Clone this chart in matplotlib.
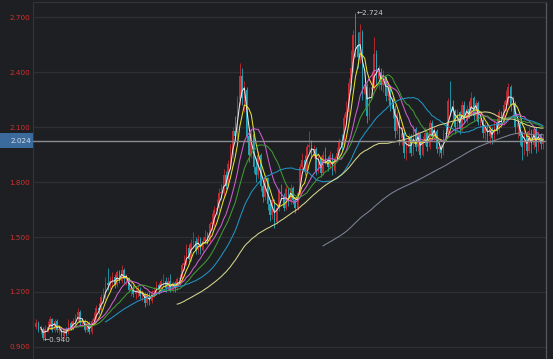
import matplotlib
matplotlib.use("Agg")
import matplotlib.pyplot as plt
import matplotlib.transforms as mtransforms
from matplotlib.patches import Rectangle
import numpy as np
import pandas as pd

# daily closes (left to right)
closes = [
    1.03, 0.99, 1.00, 0.95, 1.00, 1.01, 1.05, 0.99, 1.04, 0.99,
    1.00, 0.96, 0.99, 0.98, 1.03, 1.00, 1.04, 1.05, 1.09, 1.03,
    1.04, 0.99, 1.03, 0.98, 1.04, 1.06, 1.11, 1.10, 1.17, 1.17,
    1.25, 1.24, 1.26, 1.28, 1.24, 1.31, 1.26, 1.32, 1.27, 1.27,
    1.21, 1.22, 1.19, 1.20, 1.21, 1.18, 1.19, 1.14, 1.19, 1.15,
    1.20, 1.20, 1.24, 1.21, 1.26, 1.26, 1.22, 1.26, 1.21, 1.25,
    1.22, 1.27, 1.27, 1.35, 1.36, 1.44, 1.38, 1.47, 1.48, 1.43,
    1.49, 1.43, 1.48, 1.50, 1.48, 1.57, 1.58, 1.65, 1.66, 1.74,
    1.74, 1.84, 1.78, 1.90, 1.95, 2.08, 2.05, 2.25, 2.38, 2.26,
    2.30, 2.05, 1.95, 2.06, 1.88, 1.84, 1.95, 1.78, 1.72, 1.82,
    1.68, 1.62, 1.70, 1.58, 1.66, 1.75, 1.72, 1.66, 1.76, 1.69,
    1.77, 1.70, 1.66, 1.74, 1.88, 1.92, 1.86, 1.99, 2.00, 1.95,
    1.98, 1.86, 1.93, 1.85, 1.95, 1.92, 1.88, 1.95, 1.86, 1.93,
    1.96, 2.02, 2.00, 2.15, 2.18, 2.34, 2.42, 2.60, 2.55, 2.48,
    2.62, 2.28, 2.32, 2.16, 2.30, 2.32, 2.50, 2.36, 2.40, 2.33,
    2.37, 2.27, 2.32, 2.22, 2.20, 2.08, 2.17, 2.04, 2.07, 1.96,
    1.99, 2.05, 1.96, 2.09, 1.99, 2.06, 1.95, 2.03, 2.07, 1.99,
    2.12, 2.05, 2.08, 1.98, 1.99, 1.96, 2.07, 2.06, 2.24, 2.20,
    2.19, 2.10, 2.18, 2.09, 2.22, 2.14, 2.20, 2.17, 2.26, 2.16,
    2.23, 2.13, 2.14, 2.07, 2.10, 2.05, 2.09, 2.04, 2.12, 2.09,
    2.18, 2.12, 2.22, 2.25, 2.32, 2.22, 2.23, 2.10, 2.12, 2.05,
    1.99, 2.07, 1.97, 2.08, 2.00, 2.09, 1.99, 2.06, 2.01, 2.024,
]
highs = [
    1.05, 1.04, 1.02, 1.01, 1.02, 1.04, 1.07, 1.06, 1.05, 1.05,
    1.02, 1.01, 1.00, 1.01, 1.05, 1.04, 1.06, 1.08, 1.11, 1.10,
    1.06, 1.05, 1.04, 1.04, 1.05, 1.09, 1.13, 1.14, 1.19, 1.22,
    1.28, 1.33, 1.29, 1.31, 1.30, 1.32, 1.32, 1.35, 1.33, 1.30,
    1.28, 1.25, 1.24, 1.23, 1.24, 1.23, 1.21, 1.20, 1.20, 1.20,
    1.21, 1.23, 1.26, 1.25, 1.27, 1.30, 1.28, 1.28, 1.30, 1.26,
    1.26, 1.28, 1.30, 1.36, 1.40, 1.46, 1.46, 1.49, 1.53, 1.50,
    1.51, 1.50, 1.50, 1.54, 1.53, 1.58, 1.63, 1.67, 1.71, 1.77,
    1.79, 1.87, 1.86, 1.92, 2.01, 2.10, 2.16, 2.27, 2.45, 2.42,
    2.35, 2.32, 2.10, 2.09, 2.08, 1.93, 1.97, 1.96, 1.81, 1.84,
    1.83, 1.71, 1.72, 1.71, 1.68, 1.77, 1.79, 1.74, 1.78, 1.77,
    1.79, 1.78, 1.72, 1.75, 1.90, 1.96, 1.95, 2.01, 2.08, 2.03,
    2.00, 1.99, 1.95, 1.94, 1.97, 1.99, 1.94, 1.97, 1.96, 1.94,
    1.99, 2.04, 2.06, 2.17, 2.24, 2.37, 2.52, 2.63, 2.724, 2.62,
    2.66, 2.63, 2.38, 2.34, 2.32, 2.40, 2.59, 2.52, 2.44, 2.42,
    2.41, 2.38, 2.35, 2.33, 2.27, 2.22, 2.19, 2.18, 2.11, 2.08,
    2.03, 2.07, 2.06, 2.11, 2.10, 2.08, 2.07, 2.05, 2.10, 2.08,
    2.14, 2.14, 2.10, 2.09, 2.02, 2.01, 2.09, 2.12, 2.26, 2.35,
    2.25, 2.20, 2.20, 2.19, 2.24, 2.24, 2.22, 2.24, 2.29, 2.27,
    2.25, 2.24, 2.18, 2.16, 2.13, 2.12, 2.11, 2.10, 2.14, 2.15,
    2.20, 2.19, 2.24, 2.30, 2.34, 2.33, 2.27, 2.24, 2.15, 2.13,
    2.08, 2.09, 2.08, 2.10, 2.09, 2.10, 2.10, 2.08, 2.07, 2.06,
]
lows = [
    1.00, 0.98, 0.97, 0.94, 0.95, 0.98, 1.00, 0.98, 0.98, 0.98,
    0.97, 0.95, 0.95, 0.96, 0.97, 0.99, 0.99, 1.02, 1.04, 1.02,
    1.01, 0.98, 0.98, 0.97, 0.97, 1.02, 1.05, 1.08, 1.09, 1.14,
    1.16, 1.21, 1.21, 1.23, 1.22, 1.23, 1.25, 1.25, 1.25, 1.24,
    1.20, 1.18, 1.17, 1.16, 1.17, 1.16, 1.15, 1.12, 1.13, 1.13,
    1.14, 1.17, 1.19, 1.19, 1.20, 1.23, 1.20, 1.21, 1.20, 1.20,
    1.20, 1.21, 1.24, 1.26, 1.32, 1.35, 1.36, 1.37, 1.44, 1.41,
    1.41, 1.41, 1.42, 1.46, 1.46, 1.47, 1.54, 1.56, 1.62, 1.64,
    1.70, 1.72, 1.76, 1.77, 1.87, 1.93, 2.02, 2.03, 2.22, 2.22,
    2.18, 2.02, 1.91, 1.93, 1.85, 1.80, 1.82, 1.75, 1.69, 1.70,
    1.65, 1.59, 1.60, 1.55, 1.57, 1.64, 1.70, 1.64, 1.65, 1.67,
    1.68, 1.68, 1.63, 1.65, 1.73, 1.85, 1.84, 1.85, 1.96, 1.93,
    1.93, 1.84, 1.85, 1.83, 1.84, 1.90, 1.86, 1.87, 1.84, 1.85,
    1.91, 1.94, 1.97, 1.99, 2.12, 2.16, 2.30, 2.40, 2.48, 2.42,
    2.45, 2.25, 2.20, 2.12, 2.14, 2.26, 2.30, 2.33, 2.31, 2.30,
    2.29, 2.24, 2.25, 2.19, 2.15, 2.04, 2.06, 2.00, 2.00, 1.93,
    1.92, 1.96, 1.94, 1.95, 1.97, 1.97, 1.93, 1.94, 2.00, 1.97,
    1.98, 2.03, 2.02, 1.96, 1.94, 1.93, 1.95, 2.03, 2.05, 2.16,
    2.14, 2.07, 2.08, 2.06, 2.08, 2.12, 2.12, 2.15, 2.16, 2.14,
    2.14, 2.11, 2.10, 2.04, 2.03, 2.02, 2.01, 2.01, 2.02, 2.06,
    2.07, 2.10, 2.11, 2.19, 2.22, 2.19, 2.16, 2.07, 2.04, 2.00,
    1.92, 1.95, 1.94, 1.96, 1.96, 1.98, 1.96, 1.97, 1.98, 1.98,
]
first_open = 1.01

ma_windows = [3, 6, 12, 18, 31, 62, 125]
ma_colors = ["#e8e8e8", "#e6e22a", "#cf5fcf", "#3f9a33", "#1f94c4", "#d6d68c", "#7c8496"]

y_ticks = [0.9, 1.2, 1.5, 1.8, 2.1, 2.4, 2.7]

BG = "#1e1f23"
UP = "#c42a2f"
DOWN = "#1fa3b5"

c = np.array(closes)
o = np.concatenate([[first_open], c[:-1]])
h = np.maximum(np.array(highs), np.maximum(o, c))
l = np.minimum(np.array(lows), np.minimum(o, c))
x = np.arange(len(c))
up = c >= o

fig = plt.figure(figsize=(5.53, 3.59), dpi=100, facecolor=BG)
ax = fig.add_axes([33 / 553, 0, 513 / 553, 357 / 359])
ax.set_facecolor(BG)

for yt in y_ticks:
    ax.axhline(yt, color="#2e2f34", lw=0.9, zorder=0)

cols = np.where(up, UP, DOWN)
ax.vlines(x, l, h, colors=cols, lw=0.6, zorder=2)
ax.bar(x, np.maximum(np.abs(c - o), 0.004), bottom=np.minimum(o, c), width=0.7,
       color=cols, linewidth=0, zorder=2)

s = pd.Series(c)
for w, col in zip(ma_windows, ma_colors):
    ax.plot(x, s.rolling(w).mean(), color=col, lw=0.75, zorder=3)

last = c[-1]
ax.axhline(last, color="#8c8d90", lw=1.0, zorder=4)

ax.set_xlim(-1.3, 220.3)
ax.set_ylim(0.8345, 2.782)
ax.set_xticks([])
ax.set_yticks(y_ticks)
ax.set_yticklabels([f"{v:.3f}" for v in y_ticks])
ax.tick_params(axis="y", length=0, pad=2, labelsize=5.2, labelcolor="#d2302c")
for sp in ["left", "top"]:
    ax.spines[sp].set_color("#34353a")
    ax.spines[sp].set_linewidth(0.8)
ax.spines["right"].set_color("#56575c")
ax.spines["right"].set_linewidth(0.9)
ax.spines["bottom"].set_visible(False)

# last-price marker on the axis
tr = mtransforms.blended_transform_factory(fig.transFigure, ax.transData)
ax.add_patch(Rectangle((0, last - 0.041), 33 / 553, 0.082, transform=tr,
                       facecolor="#3b6a9c", edgecolor="none", clip_on=False, zorder=5))
ax.text(31 / 553, last, f"{last:.3f}", transform=tr, ha="right", va="center",
        fontsize=5.2, color="#d8dde5", zorder=6)

# highest / lowest labels
ih = int(np.argmax(h))
il = int(np.argmin(l))
ax.text(ih + 0.4, h[ih], f"\u2190{h[ih]:.3f}", fontsize=5.2, color="#c8c8c8",
        ha="left", va="center", zorder=6)
ax.text(il + 0.4, l[il], f"\u2190{l[il]:.3f}", fontsize=5.2, color="#c8c8c8",
        ha="left", va="center", zorder=6)

plt.savefig("out.png", dpi=100, facecolor=BG)
